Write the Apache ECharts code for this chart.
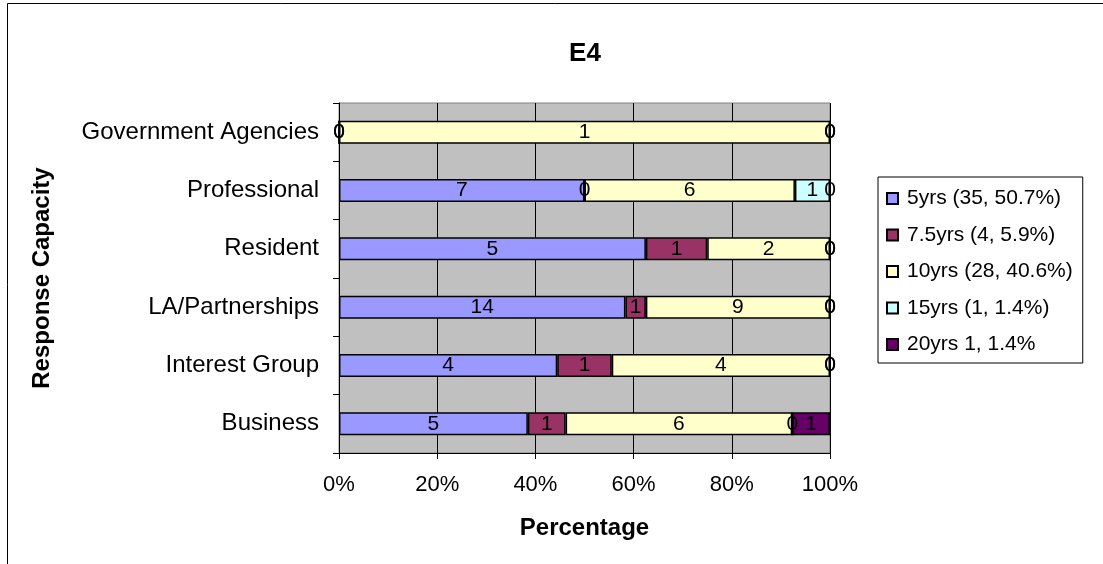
<!DOCTYPE html>
<html>
<head>
<meta charset="utf-8">
<script src="https://cdn.jsdelivr.net/npm/echarts@6/dist/echarts.min.js"></script>
<style>
html,body{margin:0;padding:0;background:#fff;}
#chart{width:1103px;height:564px;}
</style>
</head>
<body>
<div id="chart"></div>
<script>
// ---- data ----
const categories = ['Business', 'Interest Group', 'LA/Partnerships', 'Resident', 'Professional', 'Government Agencies'];
const seriesNames = ['5yrs (35, 50.7%)', '7.5yrs (4, 5.9%)', '10yrs (28, 40.6%)', '15yrs (1, 1.4%)', '20yrs 1, 1.4%'];
const yrs5   = [5, 4, 14, 5, 7, 0];
const yrs7_5 = [1, 1, 1, 1, 0, 0];
const yrs10  = [6, 4, 9, 2, 6, 1];
const yrs15  = [0, 0, 0, 0, 1, 0];
const yrs20  = [1, 0, 0, 0, 0, 0];
const xTickValues = [0, 20, 40, 60, 80, 100];

const colors = ['#9999FF', '#993366', '#FFFFCC', '#CCFFFF', '#660066'];
const counts = [yrs5, yrs7_5, yrs10, yrs15, yrs20];
const totals = categories.map((c, i) => counts.reduce((s, arr) => s + arr[i], 0));
const FONT = "'Liberation Sans', Arial, sans-serif";

const series = counts.map((arr, k) => ({
  name: seriesNames[k],
  type: 'bar',
  stack: 'total',
  barWidth: 23,
  data: arr.map((v, i) => v / totals[i] * 100),
  itemStyle: { color: colors[k], borderColor: '#000', borderWidth: 1.5 },
  label: {
    show: true,
    position: 'inside',
    color: '#000',
    fontFamily: FONT,
    fontSize: 21,
    formatter: p => String(arr[p.dataIndex])
  },
  emphasis: { disabled: true },
  animation: false
}));

const chart = echarts.init(document.getElementById('chart'), null, { renderer: 'canvas' });
chart.setOption({
  animation: false,
  backgroundColor: '#fff',
  textStyle: { fontFamily: FONT },
  title: {
    text: 'E4',
    left: 580,
    textAlign: 'center',
    top: 36,
    textStyle: { fontFamily: FONT, fontSize: 26, fontWeight: 'bold', color: '#000' }
  },
  graphic: [{
    type: 'rect',
    shape: { x: 7.5, y: 3.5, width: 1200, height: 700 },
    style: { fill: 'none', stroke: '#000', lineWidth: 1 },
    silent: true, z: -1
  }],
  legend: {
    orient: 'vertical',
    left: 878,
    top: 177,
    padding: [11, 10, 8, 8],
    itemGap: 15.5,
    itemWidth: 11,
    itemHeight: 11,
    icon: 'rect',
    borderColor: '#000',
    borderWidth: 1,
    backgroundColor: '#fff',
    selectedMode: false,
    textStyle: { fontFamily: FONT, fontSize: 21, color: '#000', lineHeight: 21, padding: [0, 0, 0, 4] },
    data: seriesNames
  },
  grid: {
    left: 339, top: 103, width: 491, height: 350,
    show: true, backgroundColor: '#C0C0C0', borderColor: '#808080', borderWidth: 1,
    containLabel: false
  },
  xAxis: {
    type: 'value',
    min: 0, max: 100, interval: 20,
    name: 'Percentage',
    nameLocation: 'middle',
    nameGap: 63,
    nameTextStyle: { fontFamily: FONT, fontSize: 24, fontWeight: 'bold', color: '#000' },
    axisLine: { show: true, lineStyle: { color: '#000', width: 1 } },
    axisTick: { show: true, length: 6, lineStyle: { color: '#000' } },
    axisLabel: {
      fontFamily: FONT, fontSize: 22, color: '#000', margin: 21,
      formatter: v => (xTickValues.indexOf(v) >= 0 ? v + '%' : '')
    },
    splitLine: { show: true, lineStyle: { color: '#000', width: 1 } }
  },
  yAxis: {
    type: 'category',
    data: categories,
    name: 'Response Capacity',
    nameLocation: 'middle',
    nameGap: 285,
    nameRotate: 90,
    nameTextStyle: { fontFamily: FONT, fontSize: 24, fontWeight: 'bold', color: '#000' },
    axisLine: { show: true, lineStyle: { color: '#000', width: 1 } },
    axisTick: { show: true, length: 6, lineStyle: { color: '#000' } },
    axisLabel: { fontFamily: FONT, fontSize: 24, color: '#000', margin: 20 },
    splitLine: { show: false }
  },
  series: series
});
</script>
</body>
</html>
